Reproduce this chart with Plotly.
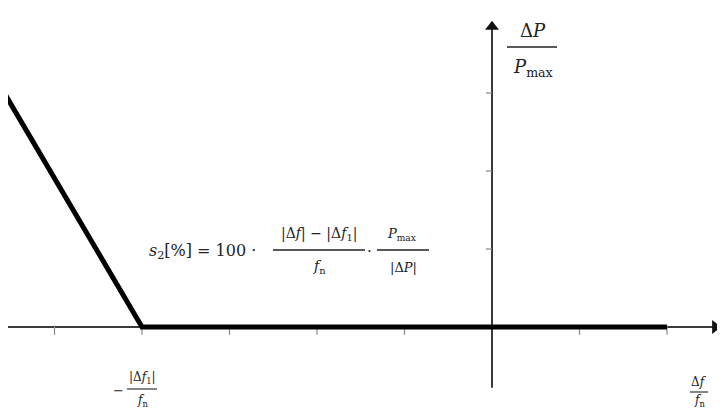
import plotly.graph_objects as go

# Data
line_x = [-5.6, -4.0, 2.0]
line_y = [3.05, 0.0, 0.0]
xticks = [-5, -4, -3, -2, -1, 1, 2]
yticks = [1, 2, 3]
x_axis_span = [-5.55, 2.55]
y_axis_span = [-0.78, 3.85]

OFF = 8  # default page body margin
W, H = 725 - OFF, 408 - OFF
X0PX, XSC = 492.0, 87.5
Y0PX, YSC = 327.0, 78.0
def dx(px):
    return (px - X0PX) / XSC
def dy(py):
    return (Y0PX - py) / YSC

fig = go.Figure()
axc = "#3a3a3a"
fig.add_trace(go.Scatter(x=x_axis_span, y=[0, 0], mode="lines", line=dict(color=axc, width=2), hoverinfo="skip"))
fig.add_trace(go.Scatter(x=[0, 0], y=y_axis_span, mode="lines", line=dict(color=axc, width=2), hoverinfo="skip"))
fig.add_trace(go.Scatter(x=[x_axis_span[1]], y=[0], mode="markers",
                         marker=dict(symbol="triangle-right", size=12, color="#111"), hoverinfo="skip"))
fig.add_trace(go.Scatter(x=[0], y=[y_axis_span[1]], mode="markers",
                         marker=dict(symbol="triangle-up", size=12, color="#111"), hoverinfo="skip"))
tx, ty = [], []
for t in xticks:
    tx += [t, t, None]; ty += [0.02, -0.1, None]
for t in yticks:
    tx += [0, -0.07, None]; ty += [t, t, None]
fig.add_trace(go.Scatter(x=tx, y=ty, mode="lines", line=dict(color="#888", width=1.2), hoverinfo="skip"))
fig.add_trace(go.Scatter(x=line_x, y=line_y, mode="lines", line=dict(color="#000", width=5), hoverinfo="skip"))

font = dict(family="DejaVu Serif", color="#222")
def txt(px, py, s, size, xanchor="center"):
    fig.add_annotation(x=dx(px), y=dy(py), text=s, showarrow=False, xanchor=xanchor, yanchor="middle",
                       font=dict(size=size, **font))
def bar(px1, px2, py, w=1.3):
    fig.add_shape(type="line", x0=dx(px1), x1=dx(px2), y0=dy(py), y1=dy(py), line=dict(color="#222", width=w))

# formula
txt(147, 251, "<i>s</i><sub>2</sub>[%] = 100 ·", 16, "left")
txt(319, 234, "|Δ<i>f</i>| − |Δ<i>f</i><sub>1</sub>|", 14)
bar(273, 365, 250)
txt(319, 267, "<i>f</i><sub>n</sub>", 14)
txt(369, 251, "·", 15)
txt(402, 234, "<i>P</i><sub>max</sub>", 13)
bar(377, 429, 250)
txt(403, 267, "|Δ<i>P</i>|", 13)

# y label
txt(533, 30, "Δ<i>P</i>", 18)
bar(507, 557, 47, 1.6)
txt(533, 68, "<i>P</i><sub>max</sub>", 18)

# x label
txt(699, 382, "Δ<i>f</i>", 12)
bar(690, 708, 392, 1.1)
txt(699, 401, "<i>f</i><sub>n</sub>", 12)

# kink label
txt(118, 390, "−", 13)
txt(142, 378, "|Δ<i>f</i><sub>1</sub>|", 12)
bar(127, 157, 389, 1.1)
txt(142, 401, "<i>f</i><sub>n</sub>", 12)

fig.update_layout(
    width=W, height=H, margin=dict(l=0, r=0, t=0, b=0),
    paper_bgcolor="white", plot_bgcolor="white", showlegend=False,
    xaxis=dict(range=[dx(OFF), dx(725)], visible=False, fixedrange=True),
    yaxis=dict(range=[dy(408), dy(OFF)], visible=False, fixedrange=True),
)
fig.write_html("out.html")
